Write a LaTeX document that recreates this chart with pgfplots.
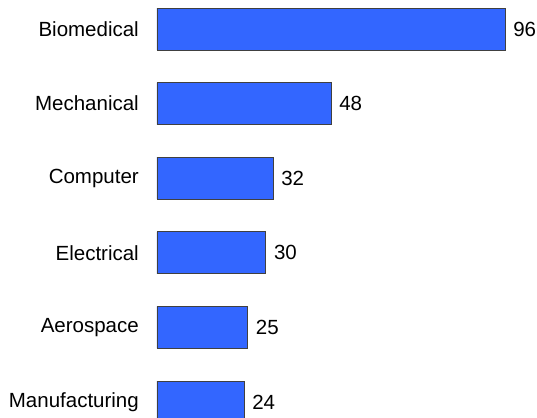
\documentclass[border=0pt]{standalone}
\usepackage{pgfplots}
\pgfplotsset{compat=1.18}
\usepackage{fontspec}
\setmainfont{Liberation Sans}
\definecolor{barblue}{RGB}{51,102,255}
\begin{document}
\begin{tikzpicture}
\begin{axis}[
  scale only axis,
  width=380pt, height=417pt,
  xbar,
  bar width=42pt,
  xmin=0, xmax=104.83,
  ymin=-0.389, ymax=5.201,
  y dir=reverse,
  axis line style={draw=none},
  major tick length=0pt,
  xtick=\empty,
  ytick={0,1,2,3,4,5},
  yticklabels={Biomedical,Mechanical,Computer,Electrical,Aerospace,Manufacturing},
  yticklabel style={font=\fontsize{20.5}{23}\selectfont, inner sep=0pt, anchor=east, xshift=-18pt},
  /pgf/number format/assume math mode=true,
  nodes near coords,
  nodes near coords style={font=\fontsize{20.5}{23}\selectfont, inner sep=0pt, anchor=west, xshift=8pt},
  clip=false,
]
\addplot[fill=barblue, draw=black!75, line width=0.7pt] coordinates {
  (96,0) (48,1) (32,2) (30,3) (25,4) (24,5)
};
\end{axis}
\pgfresetboundingbox
\path ([xshift=-157pt]current axis.south west) rectangle (current axis.north east);
\end{tikzpicture}
\end{document}
